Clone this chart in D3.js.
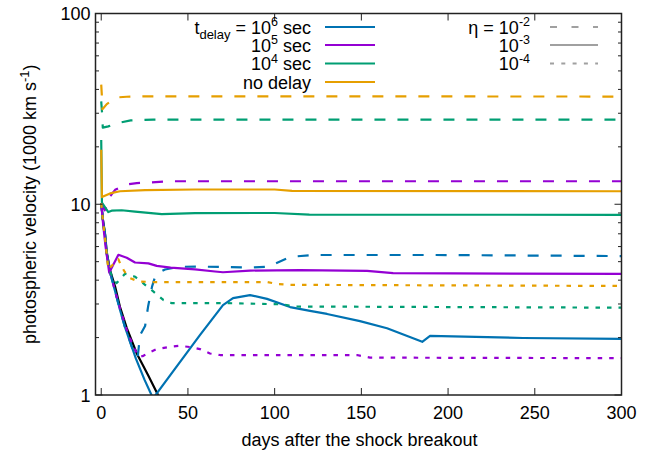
<!DOCTYPE html>
<html><head><meta charset="utf-8">
<script src="https://cdn.jsdelivr.net/npm/d3@7"></script>
<style>body{margin:0;background:#fff}text{font-family:"Liberation Sans",Arial,sans-serif;fill:#000}</style>
</head><body>
<svg id="c" width="654" height="451"></svg>
<script>
// ---- data: [day, photospheric velocity (1000 km/s)] ----
const xTicks = [0, 50, 100, 150, 200, 250, 300];
const yTicks = [1, 10, 100];
const xLabel = "days after the shock breakout";

const blackLine = [[0,10.1],[1,8.3],[2.2,7.0],[3.2,5.6],[5.1,4.5],[8,3.7],[10.8,2.9],[14.7,2.25],[20.5,1.65],[27.2,1.26],[33,0.99]];

const blueDashed = [[0,10.1],[1,8.2],[2.2,6.9],[3.2,5.5],[5.1,4.4],[8,3.5],[10.8,2.8],[13.7,2.27],[18.5,1.7],[21,1.57],[22.4,2.06],[25.3,2.3],[27,2.9],[29.3,3.7],[31.5,4.3],[36.8,4.55],[45,4.7],[56.9,4.71],[85.8,4.66],[96.2,4.7],[108.9,5.3],[122.1,5.42],[191.4,5.42],[300,5.35]];
const blueSolid = [[0,10.1],[1,8.2],[2.2,6.9],[3.2,5.5],[5.1,4.4],[8,3.5],[10.8,2.8],[13.7,2.27],[20,1.55],[25,1.2],[29.9,0.96],[56.9,2.06],[70.2,2.96],[76,3.22],[85.8,3.34],[95.6,3.19],[108.9,2.89],[120.4,2.76],[130.2,2.66],[149.2,2.44],[164.8,2.24],[185.1,1.90],[189.6,2.04],[243.2,1.99],[300,1.97]];

const purpleDashed = [[0,10.1],[2,9.3],[5.1,11.0],[8,11.9],[14.7,12.7],[20.5,12.9],[39.7,13.2],[300,13.2]];
const purpleSolid = [[0,10.1],[1,8.0],[2.5,6.0],[4.6,4.38],[9.9,5.43],[14.7,5.24],[19.5,4.95],[27.2,4.9],[32,4.75],[40,4.65],[54.1,4.56],[65.6,4.44],[70.2,4.40],[85.8,4.49],[114.6,4.52],[153.3,4.47],[168.3,4.35],[300,4.31]];
const purpleDotted = [[0,10.1],[1,8.0],[2.2,6.8],[3.2,5.5],[5.1,4.4],[8,3.5],[10.8,2.85],[14.7,2.2],[18.5,1.8],[21.4,1.6],[24.1,1.6],[27,1.66],[32,1.74],[39.7,1.79],[45,1.81],[52.4,1.78],[56.9,1.74],[62.7,1.65],[68.5,1.62],[147.5,1.62],[155,1.57],[300,1.56]];

const greenDashed = [[0,34.6],[0.5,30],[0.9,25.2],[4.1,25.6],[8.9,26.6],[17,27.5],[30,27.8],[300,27.8]];
const greenSolid = [[0,21.7],[0.4,10.2],[4.1,9.1],[6,9.25],[11.8,9.3],[19.5,9.15],[34.9,8.88],[54.1,8.99],[100,9.0],[120,8.82],[300,8.8]];
const greenDotted = [[0,10.1],[1,8.1],[2.2,6.8],[4.1,4.7],[7,4.0],[8.9,3.86],[13.7,4.32],[19.5,4.17],[25.3,3.78],[30,3.49],[35.8,3.15],[40.7,3.03],[72.5,3.03],[103,2.99],[113,2.91],[300,2.87]];

const orangeDashed = [[0,42.4],[0.3,38],[0.7,31.5],[3.2,33.5],[8.9,36.3],[14.7,36.6],[25,36.8],[300,36.7]];
const orangeSolid = [[0,19.3],[0.4,10.9],[5.1,11.4],[10.8,11.7],[25.3,11.85],[54.1,11.95],[100,11.95],[110,11.75],[300,11.7]];
const orangeDotted = [[0,10.1],[1,8.2],[2.2,6.6],[4.1,4.55],[6.5,4.8],[9.9,5.15],[11.5,4.75],[13.7,4.4],[16.6,4.1],[21.4,3.94],[29,3.91],[95.6,3.91],[101.5,3.82],[108.9,3.78],[300,3.73]];

const delayLabels = [["t","delay"," = 10","6"," sec"],["","","10","5"," sec"],["","","10","4"," sec"],["","","no delay","",""]];
const etaLabels = [["η = 10","-2"],["10","-3"],["10","-4"]];

// ---- styles ----
const COL = {blue:"#0072b2", purple:"#9400d3", green:"#009e73", orange:"#e69f00"};
const DASH = {dashed:"11,12", solid:null, dotted:"4.5,7"};

const series = [
  {d:blackLine, c:"#000", s:"solid"},
  {d:blueDashed, c:COL.blue, s:"dashed"},
  {d:purpleDashed, c:COL.purple, s:"dashed"},
  {d:greenDashed, c:COL.green, s:"dashed"},
  {d:orangeDashed, c:COL.orange, s:"dashed"},
  {d:blueSolid, c:COL.blue, s:"solid"},
  {d:purpleSolid, c:COL.purple, s:"solid"},
  {d:greenSolid, c:COL.green, s:"solid"},
  {d:orangeSolid, c:COL.orange, s:"solid"},
  {d:purpleDotted, c:COL.purple, s:"dotted"},
  {d:greenDotted, c:COL.green, s:"dotted"},
  {d:orangeDotted, c:COL.orange, s:"dotted"},
];

const L = 95.5, R = 621.5, T = 13.5, B = 395;
const x = d3.scaleLinear().domain([-3.3, 300]).range([L, R]);
const y = d3.scaleLog().domain([1, 100]).range([B, T]);

const svg = d3.select("#c");
svg.append("defs").append("clipPath").attr("id","clip")
  .append("rect").attr("x",L).attr("y",T).attr("width",R-L).attr("height",B-T);

const line = d3.line().x(d=>x(d[0])).y(d=>y(d[1]));
const g = svg.append("g").attr("clip-path","url(#clip)");
series.forEach(s=>{
  g.append("path").attr("d", line(s.d)).attr("fill","none")
   .attr("stroke", s.c).attr("stroke-width", 2.2)
   .attr("stroke-dasharray", DASH[s.s]).attr("stroke-linejoin","round");
});

// ticks
const tg = svg.append("g").attr("stroke","#222").attr("stroke-width",1);
xTicks.forEach(t=>{
  tg.append("line").attr("x1",x(t)).attr("x2",x(t)).attr("y1",B).attr("y2",B-7);
  tg.append("line").attr("x1",x(t)).attr("x2",x(t)).attr("y1",T).attr("y2",T+7);
});
const minor = [];
[1,10].forEach(dd=>{for(let k=2;k<10;k++) minor.push(dd*k);});
yTicks.forEach(t=>{
  tg.append("line").attr("x1",L).attr("x2",L+7).attr("y1",y(t)).attr("y2",y(t));
  tg.append("line").attr("x1",R).attr("x2",R-7).attr("y1",y(t)).attr("y2",y(t));
});
minor.forEach(t=>{
  tg.append("line").attr("x1",L).attr("x2",L+3.5).attr("y1",y(t)).attr("y2",y(t));
  tg.append("line").attr("x1",R).attr("x2",R-3.5).attr("y1",y(t)).attr("y2",y(t));
});

// frame
svg.append("rect").attr("x",L).attr("y",T).attr("width",R-L).attr("height",B-T)
  .attr("fill","none").attr("stroke","#222").attr("stroke-width",1.5);

// tick labels
xTicks.forEach(t=>{
  svg.append("text").attr("x",x(t)).attr("y",B+24).attr("text-anchor","middle")
    .attr("font-size",18).text(t);
});
yTicks.forEach(t=>{
  svg.append("text").attr("x",L-5).attr("y",y(t)+6.5).attr("text-anchor","end")
    .attr("font-size",18).text(t);
});

// axis labels
svg.append("text").attr("x",(L+R)/2+1).attr("y",446).attr("text-anchor","middle")
  .attr("font-size",18).text(xLabel);
const yl = svg.append("text").attr("transform",`translate(36,${(T+B)/2}) rotate(-90)`)
  .attr("text-anchor","middle").attr("font-size",18);
yl.append("tspan").text("photospheric velocity (1000 km s");
yl.append("tspan").attr("dy",-7).attr("font-size",13).text("-1");
yl.append("tspan").attr("dy",7).text(")");

// legend: delays
const rows = [27, 45, 63.5, 82];
const legCols = [COL.blue, COL.purple, COL.green, COL.orange];
delayLabels.forEach((lab,i)=>{
  const t = svg.append("text").attr("x",311).attr("y",rows[i]+6.5).attr("text-anchor","end").attr("font-size",18);
  if(lab[0]) t.append("tspan").text(lab[0]);
  if(lab[1]) t.append("tspan").attr("dy",5).attr("font-size",13).text(lab[1]);
  t.append("tspan").attr("dy",lab[1]?-5:0).text(lab[2]);
  if(lab[3]){
    t.append("tspan").attr("dy",-7.5).attr("font-size",12.5).text(lab[3]);
    t.append("tspan").attr("dy",7.5).text(lab[4]);
  }
  svg.append("line").attr("x1",325).attr("x2",375).attr("y1",rows[i]).attr("y2",rows[i])
    .attr("stroke",legCols[i]).attr("stroke-width",2.2);
});
// legend: eta
const etaDash = ["7,14.5", null, "4,7.3"];
etaLabels.forEach((lab,i)=>{
  const t = svg.append("text").attr("x",530).attr("y",rows[i]+6.5).attr("text-anchor","end").attr("font-size",18);
  t.append("tspan").text(lab[0]);
  t.append("tspan").attr("dy",-7.5).attr("font-size",12.5).text(lab[1]);
  svg.append("line").attr("x1",550).attr("x2",598).attr("y1",rows[i]).attr("y2",rows[i])
    .attr("stroke","#a0a0a0").attr("stroke-width",2.2).attr("stroke-dasharray",etaDash[i]);
});
</script>
</body></html>
